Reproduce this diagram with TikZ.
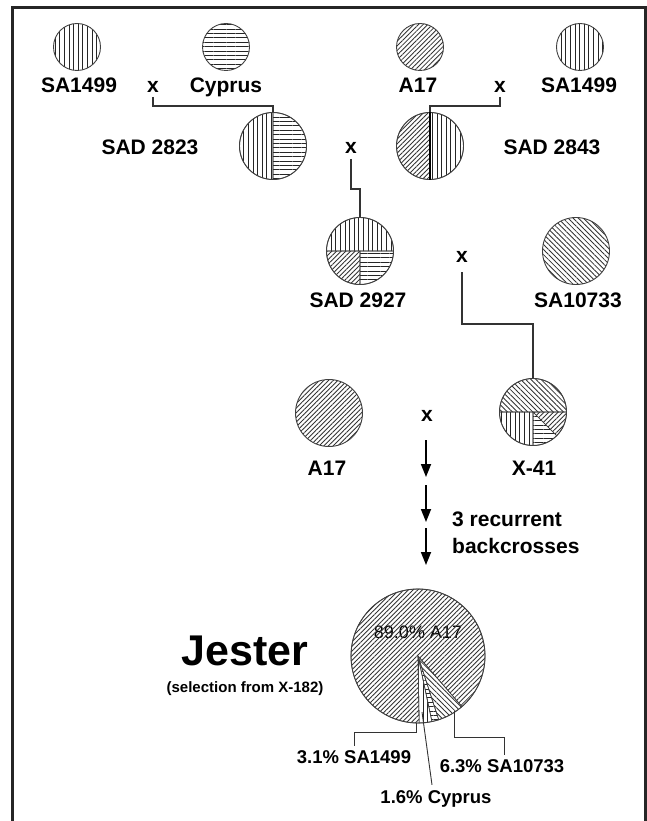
\documentclass[tikz,border=0pt]{standalone}
\usepackage{fontspec}
\setmainfont{Liberation Sans}
\usepackage{tikz}
\usetikzlibrary{patterns.meta, arrows.meta, positioning, calc}

\newcommand{\pieslice}[5]{%
  \filldraw[slice, #5] (#1) -- ++(#3:#2) arc[start angle=#3, end angle=#4, radius=#2] -- cycle;}

\begin{document}
\begin{tikzpicture}[
    x=1pt, y=1pt,
    plant/.style={circle, draw=black!75, line width=0.9pt, inner sep=0pt, minimum size=47pt},
    bigplant/.style={plant, minimum size=67pt},
    slice/.style={draw=black!75, line width=0.6pt},
    lbl/.style={anchor=base, inner sep=0pt, font=\fontsize{21}{25}\selectfont\bfseries},
    pct/.style={anchor=base, inner sep=0pt, font=\fontsize{18.5}{22}\selectfont\bfseries},
    sa1499/.style={pattern={Lines[angle=90, distance=4.6pt, line width=0.8pt]}, pattern color=black!85},
    cyprus/.style={pattern={Lines[angle=0, distance=4.4pt, line width=0.8pt]}, pattern color=black!85},
    a17/.style={pattern={Lines[angle=45, distance=3.3pt, line width=0.85pt]}, pattern color=black!80},
    sa10733/.style={pattern={Lines[angle=-45, distance=3.6pt, line width=0.85pt]}, pattern color=black!80},
    link/.style={draw=black!80, line width=1.1pt},
    arrow/.style={line width=1.7pt, ->, >={Triangle[length=13pt, width=10pt]}}
]
\useasboundingbox (0,0) rectangle (647,-821);
\draw[line width=3pt, draw=black!85] (12,-821) -- (12,-8) -- (645,-8) -- (645,-821);

% parents
\node[plant, sa1499] (p1) at (77,-47) {};
\node[plant, cyprus] (p2) at (226,-47) {};
\node[plant, a17] (p3) at (420,-47) {};
\node[plant, sa1499] (p4) at (580,-47) {};
\node[lbl] (l1) at (79,-93) {SA1499};
\node[lbl] (x1) at (153,-93) {x};
\node[lbl] (l2) at (226,-93) {Cyprus};
\node[lbl] (l3) at (418,-93) {A17};
\node[lbl] (x2) at (500,-93) {x};
\node[lbl] (l4) at (579,-93) {SA1499};

% first crosses
\coordinate (c1) at (273,-146);
\pieslice{c1}{33.5pt}{90}{270}{sa1499}
\pieslice{c1}{33.5pt}{-90}{90}{cyprus}
\node[bigplant] (sad2823) at (c1) {};
\coordinate (c2) at (430,-146);
\pieslice{c2}{33.5pt}{90}{270}{a17}
\pieslice{c2}{33.5pt}{-90}{90}{sa1499}
\node[bigplant] (sad2843) at (c2) {};
\draw[line width=1.8pt] (sad2843.north) -- (sad2843.south);
\node[lbl] (l5) at (150,-155) {SAD 2823};
\node[lbl] (x3) at (351,-154) {x};
\node[lbl] (l6) at (552,-155) {SAD 2843};

\draw[link] ([yshift=-4pt]x1.base) -- ++(0,-9) -| (sad2823.north);
\draw[link] ([yshift=-4pt]x2.base) -- ++(0,-9) -| (sad2843.north);

% second cross
\coordinate (c3) at (360,-251);
\pieslice{c3}{33.5pt}{0}{180}{sa1499}
\pieslice{c3}{33.5pt}{180}{270}{a17}
\pieslice{c3}{33.5pt}{270}{360}{cyprus}
\node[bigplant] (sad2927) at (c3) {};
\node[bigplant, sa10733] (sa10733) at (576,-251) {};
\node[lbl] (l7) at (358,-307) {SAD 2927};
\node[lbl] (x4) at (462,-262) {x};
\node[lbl] (l8) at (578,-307) {SA10733};

\draw[link] ([yshift=-5pt]x3.base) -- ++(0,-30) -| (sad2927.north);

% third cross
\node[bigplant, a17] (a17b) at (329,-413) {};
\coordinate (c4) at (533,-412);
\pieslice{c4}{33.5pt}{0}{180}{sa10733}
\pieslice{c4}{33.5pt}{180}{270}{sa1499}
\pieslice{c4}{33.5pt}{270}{315}{cyprus}
\pieslice{c4}{33.5pt}{315}{360}{a17}
\node[bigplant] (x41) at (c4) {};
\node[lbl] (l9) at (327,-475) {A17};
\node[lbl] (x5) at (427,-421) {x};
\node[lbl] (l10) at (534,-475) {X-41};

\draw[link] ([yshift=-10pt]x4.base) -- ++(0,-52) -| (x41.north);

% backcrosses
\foreach \i/\y in {1/440, 2/485, 3/528} {
  \coordinate (s\i) at (426,-\y);
  \coordinate (e\i) at (426,-\y-37);
  \draw[arrow] (s\i) -- (e\i);
}
\node[lbl, anchor=base west] (rec1) at (452,-526) {3 recurrent};
\node[lbl, anchor=base west] (rec2) at (452,-553) {backcrosses};

% Jester
\node[anchor=base, inner sep=0pt, font=\fontsize{43}{50}\selectfont\bfseries] (jname) at (245,-665) {Jester};
\node[anchor=base, inner sep=0pt, font=\fontsize{15}{18}\selectfont\bfseries] (jsub) at (245,-692) {(selection from X-182)};

\coordinate (cj) at (418,-656);
\node[anchor=base, inner sep=0pt, font=\fontsize{18}{22}\selectfont] (t89) at (418,-638) {89.0\% A17};
\pieslice{cj}{67pt}{271}{282}{sa1499}
\pieslice{cj}{67pt}{282}{288}{cyprus}
\pieslice{cj}{67pt}{288}{311}{sa10733}
\pieslice{cj}{67pt}{311}{631}{a17}
\node[plant, minimum size=134pt] (jester) at (cj) {};

\node[pct] (pa) at (354,-763) {3.1\% SA1499};
\node[pct] (pb) at (436,-803) {1.6\% Cyprus};
\node[pct] (pc) at (502,-772) {6.3\% SA10733};
\coordinate (ka) at (416,-723);
\coordinate (kb) at (422,-712);
\coordinate (kc) at (454,-711);
\draw[link, line width=0.9pt] (ka) -- ++(0,-9) -| ([yshift=4pt]pa.north);
\draw[link, line width=0.9pt] (kb) -- ([xshift=-4pt, yshift=5pt]pb.north);
\draw[link, line width=0.9pt] (kc) -- ++(0,-26) -| ([xshift=2pt, yshift=4pt]pc.north);
\end{tikzpicture}
\end{document}
